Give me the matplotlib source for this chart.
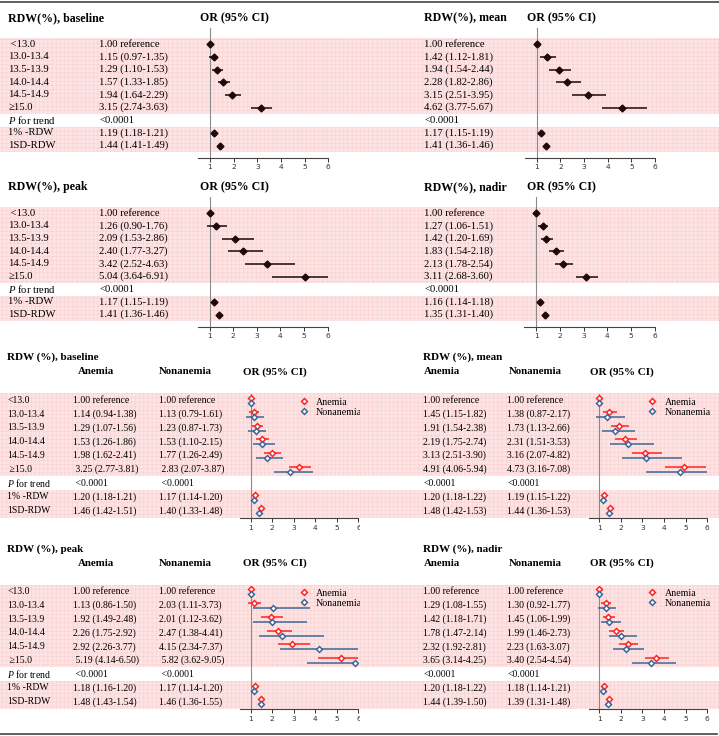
import matplotlib
matplotlib.use("Agg")
import matplotlib.pyplot as plt
from matplotlib.lines import Line2D
import numpy as np

plt.rcParams["font.family"] = ["Liberation Serif", "DejaVu Serif"]
plt.rcParams["mathtext.fontset"] = "custom"
plt.rcParams["mathtext.rm"] = "Liberation Serif"
plt.rcParams["mathtext.it"] = "Liberation Serif:italic"
plt.rcParams["hatch.linewidth"] = 0.35

W, H = 719, 736
fig = plt.figure(figsize=(W / 100, H / 100), dpi=100)

# ---------------- data ----------------
categories = ["<13.0", "13.0-13.4", "13.5-13.9", "14.0-14.4", "14.5-14.9", "≥15.0"]
extra_rows = ["$P$ for trend", "1% -RDW", "1SD-RDW"]
p_trend = "<0.0001"
ticks = [1, 2, 3, 4, 5, 6]
nan = np.nan

# Overall models: 6 RDW categories, then per 1% RDW, per 1SD RDW
baseline_or = [1.00, 1.15, 1.29, 1.57, 1.94, 3.15, 1.19, 1.44]
baseline_lo = [nan, 0.97, 1.10, 1.33, 1.64, 2.74, 1.18, 1.41]
baseline_hi = [nan, 1.35, 1.53, 1.85, 2.29, 3.63, 1.21, 1.49]

mean_or = [1.00, 1.42, 1.94, 2.28, 3.15, 4.62, 1.17, 1.41]
mean_lo = [nan, 1.12, 1.54, 1.82, 2.51, 3.77, 1.15, 1.36]
mean_hi = [nan, 1.81, 2.44, 2.86, 3.95, 5.67, 1.19, 1.46]

peak_or = [1.00, 1.26, 2.09, 2.40, 3.42, 5.04, 1.17, 1.41]
peak_lo = [nan, 0.90, 1.53, 1.77, 2.52, 3.64, 1.15, 1.36]
peak_hi = [nan, 1.76, 2.86, 3.27, 4.63, 6.91, 1.19, 1.46]

nadir_or = [1.00, 1.27, 1.42, 1.83, 2.13, 3.11, 1.16, 1.35]
nadir_lo = [nan, 1.06, 1.20, 1.54, 1.78, 2.68, 1.14, 1.31]
nadir_hi = [nan, 1.51, 1.69, 2.18, 2.54, 3.60, 1.18, 1.40]

# Stratified by anemia
base_an_or = [1.00, 1.14, 1.29, 1.53, 1.98, 3.25, 1.20, 1.46]
base_an_lo = [nan, 0.94, 1.07, 1.26, 1.62, 2.77, 1.18, 1.42]
base_an_hi = [nan, 1.38, 1.56, 1.86, 2.41, 3.81, 1.21, 1.51]
base_non_or = [1.00, 1.13, 1.23, 1.53, 1.77, 2.83, 1.17, 1.40]
base_non_lo = [nan, 0.79, 0.87, 1.10, 1.26, 2.07, 1.14, 1.33]
base_non_hi = [nan, 1.61, 1.73, 2.15, 2.49, 3.87, 1.20, 1.48]

mean_an_or = [1.00, 1.45, 1.91, 2.19, 3.13, 4.91, 1.20, 1.48]
mean_an_lo = [nan, 1.15, 1.54, 1.75, 2.51, 4.06, 1.18, 1.42]
mean_an_hi = [nan, 1.82, 2.38, 2.74, 3.90, 5.94, 1.22, 1.53]
mean_non_or = [1.00, 1.38, 1.73, 2.31, 3.16, 4.73, 1.19, 1.44]
mean_non_lo = [nan, 0.87, 1.13, 1.51, 2.07, 3.16, 1.15, 1.36]
mean_non_hi = [nan, 2.17, 2.66, 3.53, 4.82, 7.08, 1.22, 1.53]

peak_an_or = [1.00, 1.13, 1.92, 2.26, 2.92, 5.19, 1.18, 1.48]
peak_an_lo = [nan, 0.86, 1.49, 1.75, 2.26, 4.14, 1.16, 1.43]
peak_an_hi = [nan, 1.50, 2.48, 2.92, 3.77, 6.50, 1.20, 1.54]
peak_non_or = [1.00, 2.03, 2.01, 2.47, 4.15, 5.82, 1.17, 1.46]
peak_non_lo = [nan, 1.11, 1.12, 1.38, 2.34, 3.62, 1.14, 1.36]
peak_non_hi = [nan, 3.73, 3.62, 4.41, 7.37, 9.05, 1.20, 1.55]

nadir_an_or = [1.00, 1.29, 1.42, 1.78, 2.32, 3.65, 1.20, 1.44]
nadir_an_lo = [nan, 1.08, 1.18, 1.47, 1.92, 3.14, 1.18, 1.39]
nadir_an_hi = [nan, 1.55, 1.71, 2.14, 2.81, 4.25, 1.22, 1.50]
nadir_non_or = [1.00, 1.30, 1.45, 1.99, 2.23, 3.40, 1.18, 1.39]
nadir_non_lo = [nan, 0.92, 1.06, 1.46, 1.63, 2.54, 1.14, 1.31]
nadir_non_hi = [nan, 1.77, 1.99, 2.73, 3.07, 4.54, 1.21, 1.48]

# ---------------- styling ----------------
PINK = "#fde3e3"
HATCH = "#f7cfcf"
BLACK = "#1e0808"
RED = "#ff2424"
BLUE = "#3d6698"
GRAY = "#8a8a8a"
DATA_ROWS = [0, 1, 2, 3, 4, 5, 7, 8]
P_ROW = 6


def px_rect(x, y, w, h):
    return [x / W, 1 - (y + h) / H, w / W, h / H]


def fmt(o, l, h):
    if np.isnan(l):
        return "1.00 reference"
    return f"{o:.2f} ({l:.2f}-{h:.2f})"


def table_axes(x0, y0, s, r_top, r_bot):
    w = 360 if x0 == 0 else W - 360
    ax = fig.add_axes(px_rect(x0, y0 + r_top * s, w, (r_bot - r_top) * s))
    ax.set_xlim(0, w)
    ax.set_ylim(r_bot, r_top)
    ax.set_xticks([])
    ax.set_yticks([])
    for sp in ax.spines.values():
        sp.set_visible(False)
    ax.axhspan(-0.5, 5.5, facecolor=PINK, edgecolor=HATCH, hatch="++++",
               linewidth=0, zorder=0)
    ax.axhspan(6.5, 8.5, facecolor=PINK, edgecolor=HATCH, hatch="++++",
               linewidth=0, zorder=0)
    return ax


def forest_axes(fx1, ppu, y0, s, r_top, r_bot):
    left = fx1 - 0.5 * ppu
    ax = fig.add_axes(px_rect(left, y0 + r_top * s, 5.5 * ppu, (r_bot - r_top) * s))
    ax.set_xlim(0.5, 6)
    ax.set_ylim(r_bot, r_top)
    ax.patch.set_visible(False)
    for k in ["top", "left", "right"]:
        ax.spines[k].set_visible(False)
    ax.spines["bottom"].set_color("#444444")
    ax.spines["bottom"].set_linewidth(0.8)
    ax.set_xticks(ticks)
    ax.set_xticklabels([str(t) for t in ticks])
    ax.set_yticks([])
    ax.tick_params(axis="x", length=3, width=0.7, pad=1.5, labelsize=5.4,
                   colors="#333333")
    for t in ax.get_xticklabels():
        t.set_fontfamily("DejaVu Sans")
    ax.axvline(1, color=GRAY, lw=0.8, zorder=1)
    return ax


def single_panel(x0, y0, s, title, o, lo, hi, labels, label_x, or_x, hdr_x, fx1):
    fs = 7.7
    tax = table_axes(x0, y0, s, -3.0, 10.2)
    tax.text(label_x if labels else or_x, -2.08, title, fontsize=8.6,
             fontweight="bold", va="center")
    tax.text(hdr_x, -2.08, "OR (95% CI)", fontsize=8.6, fontweight="bold", va="center")
    if labels:
        names = [" " + categories[0]] + categories[1:] + extra_rows
        for i, n in enumerate(names):
            tax.text(label_x, i, n, fontsize=fs, va="center")
    for r, a, b, c in zip(DATA_ROWS, o, lo, hi):
        tax.text(or_x, r, fmt(a, b, c), fontsize=fs, va="center")
    tax.text(or_x, P_ROW, p_trend, fontsize=fs, va="center")

    fax = forest_axes(fx1, 23.66, y0, s, -1.3, 9.0)
    rows = np.array(DATA_ROWS, dtype=float)
    fax.hlines(rows, lo, hi, color=BLACK, lw=1.1, zorder=2)
    fax.plot(o, rows, ls="none", marker="D", ms=3.5, color=BLACK, zorder=3)


def dual_panel(x0, y0, s, title, ao, alo, ahi, no, nlo, nhi, labels,
               label_x, a_x, n_x, hdr_a, hdr_n, hdr_or, fx1):
    fs = 7.0
    tax = table_axes(x0, y0, s, -3.6, 9.6)
    tax.text(label_x if labels else a_x, -3.12, title, fontsize=8.0,
             fontweight="bold", va="center")
    tax.text(hdr_a, -2.07, "Anemia", fontsize=7.8, fontweight="bold", va="center")
    tax.text(hdr_n, -2.07, "Nonanemia", fontsize=7.8, fontweight="bold", va="center")
    tax.text(hdr_or, -2.07, "OR (95% CI)", fontsize=8.0, fontweight="bold", va="center")
    pad = " " if labels else ""
    if labels:
        names = categories[:5] + [pad + categories[5]] + extra_rows
        for i, n in enumerate(names):
            tax.text(label_x, i, n, fontsize=fs, va="center")
    for r, a, b, c, d, e, f in zip(DATA_ROWS, ao, alo, ahi, no, nlo, nhi):
        lead = pad if r == 5 else ""
        tax.text(a_x, r, lead + fmt(a, b, c), fontsize=fs, va="center")
        tax.text(n_x, r, lead + fmt(d, e, f), fontsize=fs, va="center")
    tax.text(a_x, P_ROW, pad + p_trend, fontsize=fs, va="center")
    tax.text(n_x, P_ROW, pad + p_trend, fontsize=fs, va="center")

    fax = forest_axes(fx1, 21.55, y0, s, -0.45, 8.55)
    rows = np.array(DATA_ROWS, dtype=float)
    ra = rows - 0.17
    rn = rows + 0.2
    fax.hlines(ra, alo, ahi, color=RED, lw=1.1, zorder=2)
    fax.plot(ao, ra, ls="none", marker="D", ms=3.0, mfc="white", mec=RED,
             mew=1.1, zorder=3)
    fax.hlines(rn, nlo, nhi, color=BLUE, lw=1.1, zorder=2)
    fax.plot(no, rn, ls="none", marker="D", ms=3.0, mfc="white", mec=BLUE,
             mew=1.1, zorder=3)
    handles = [
        Line2D([], [], ls="none", marker="D", ms=3.0, mfc="white", mec=RED, mew=1.1),
        Line2D([], [], ls="none", marker="D", ms=3.0, mfc="white", mec=BLUE, mew=1.1),
    ]
    fax.legend(handles, ["Anemia", "Nonanemia"], loc="upper left",
               bbox_to_anchor=(3.2, -0.2), bbox_transform=fax.transData,
               frameon=False, fontsize=7.2, handlelength=1.1,
               handletextpad=0.7, labelspacing=0.1, borderpad=0,
               borderaxespad=0)


# ---------------- top: overall ----------------
single_panel(0, 44.3, 12.65, "RDW(%), baseline", baseline_or, baseline_lo,
             baseline_hi, True, 8.3, 99, 200, 210)
single_panel(360, 44.3, 12.65, "RDW(%), mean", mean_or, mean_lo, mean_hi,
             False, 0, 64.3, 167.3, 536.7)
single_panel(0, 213.3, 12.65, "RDW(%), peak", peak_or, peak_lo, peak_hi,
             True, 8.3, 99, 200, 209.5)
single_panel(360, 213.3, 12.65, "RDW(%), nadir", nadir_or, nadir_lo, nadir_hi,
             False, 0, 64.3, 167.3, 536.3)

# ---------------- bottom: by anemia ----------------
dual_panel(0, 400.3, 13.8, "RDW (%), baseline", base_an_or, base_an_lo, base_an_hi,
           base_non_or, base_non_lo, base_non_hi, True,
           7.3, 73.3, 159.3, 77.7, 159, 242.7, 250.7)
dual_panel(360, 400.3, 13.8, "RDW (%), mean", mean_an_or, mean_an_lo, mean_an_hi,
           mean_non_or, mean_non_lo, mean_non_hi, False,
           0, 63.3, 147.3, 64.3, 148.3, 230, 599.3)
dual_panel(0, 591.7, 13.75, "RDW (%), peak", peak_an_or, peak_an_lo, peak_an_hi,
           peak_non_or, peak_non_lo, peak_non_hi, True,
           7.3, 73.3, 159.3, 77.7, 159, 242.7, 250.7)
dual_panel(360, 591.7, 13.75, "RDW (%), nadir", nadir_an_or, nadir_an_lo, nadir_an_hi,
           nadir_non_or, nadir_non_lo, nadir_non_hi, False,
           0, 63.3, 147.3, 64.3, 148.3, 230, 599.3)

# frame rules
fig.add_artist(Line2D([0, 1], [1 - 1.5 / H] * 2, transform=fig.transFigure,
                      color="#444444", lw=1.2))
fig.add_artist(Line2D([0, 717 / W], [1 - 734 / H] * 2, transform=fig.transFigure,
                      color="#444444", lw=1.2))

fig.savefig("out.png", dpi=100)
